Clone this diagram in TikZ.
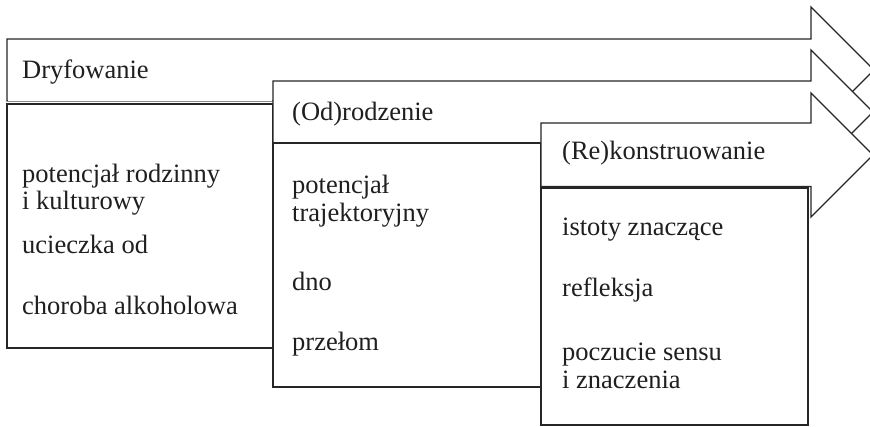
\documentclass[tikz,border=0pt]{standalone}
\usepackage{fontspec}
\setmainfont{Liberation Serif}
\begin{document}
\begin{tikzpicture}[x=1pt,y=-1pt,
  shapeline/.style={draw=black!85, fill=white, line width=1.3pt, line join=miter},
  txt/.style={anchor=base west, inner sep=0pt, font=\fontsize{26.5}{32}\selectfont, text=black!88}]
\useasboundingbox (0,0) rectangle (870,426);
\clip (0,0) rectangle (870,426);
% arrow 1
\path[shapeline] (7,39) -- (811,39) -- (811,7) -- (874,70) -- (811,133) -- (811,101) -- (7,101) -- cycle;
\draw[white, line width=1.2pt] (8,101) -- (272,101);
\draw[black!45, line width=0.8pt] (7,101) -- (273,101);
% body 1
\path[shapeline] (7,104) rectangle (273,348);
% arrow 2
\path[shapeline] (273,81) -- (811,81) -- (811,50) -- (873,112) -- (811,174) -- (811,143) -- (273,143) -- cycle;
% body 2
\path[shapeline] (273,143) rectangle (541,387);
% arrow 3
\path[shapeline] (541,123) -- (811,123) -- (811,93) -- (873,155) -- (811,217) -- (811,186.5) -- (541,186.5) -- cycle;
% body 3
\path[shapeline] (541,188) rectangle (808,425);
% texts
\node[txt] (h1) at (22,78) {Dryfowanie};
\node[txt] (h2) at (292,120) {(Od)rodzenie};
\node[txt] (h3) at (562,159) {(Re)konstruowanie};
\node[txt] (a1) at (22,182) {potencjał rodzinny};
\node[txt] (a2) at (22,209) {i kulturowy};
\node[txt] (a3) at (22,253) {ucieczka od};
\node[txt] (a4) at (22,314) {choroba alkoholowa};
\node[txt] (b1) at (292,193) {potencjał};
\node[txt] (b2) at (292,221) {trajektoryjny};
\node[txt] (b3) at (292,290) {dno};
\node[txt] (b4) at (292,350) {przełom};
\node[txt] (c1) at (562,235) {istoty znaczące};
\node[txt] (c2) at (562,296) {refleksja};
\node[txt] (c3) at (562,360) {poczucie sensu};
\node[txt] (c4) at (562,388) {i znaczenia};
\end{tikzpicture}
\end{document}
